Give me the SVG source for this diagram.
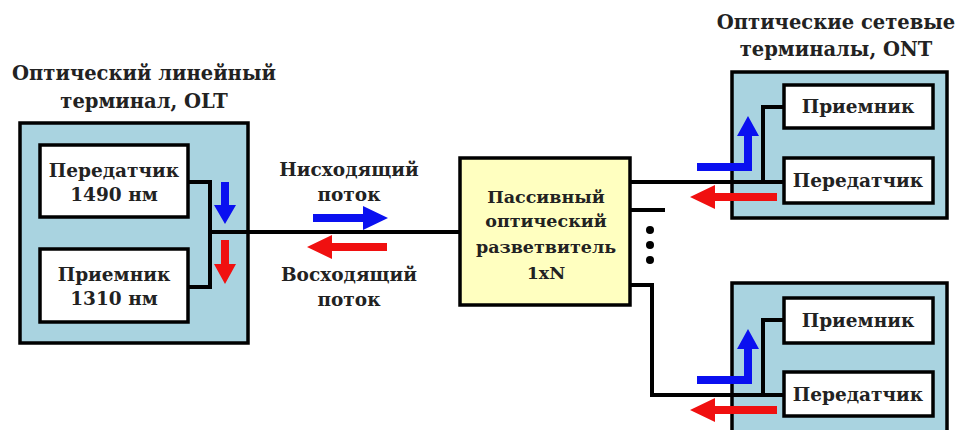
<svg xmlns="http://www.w3.org/2000/svg" width="959" height="430" viewBox="0 0 959 430">
<style>
.bg{fill:#ffffff}
.term{fill:#a9d3e0;stroke:#000;stroke-width:3.5}
.box{fill:#ffffff;stroke:#000;stroke-width:3.5}
.split{fill:#ffffc0;stroke:#000;stroke-width:3.5}
.wire{fill:none;stroke:#000;stroke-width:4}
.t{font-family:"DejaVu Serif","Liberation Serif",serif;font-weight:bold;fill:#222;text-anchor:middle}
.ttl{font-size:19.5px}
.lbl{font-size:18.5px}
.sp{font-size:17.5px}
.blue{fill:#0a10f0}
.red{fill:#f01010}
</style>
<rect class="bg" x="0" y="0" width="959" height="430"/>

<g id="olt">
<rect class="term" x="20" y="123" width="228" height="220"/>
<text class="t ttl" x="144" y="80">Оптический линейный</text>
<text class="t ttl" x="144" y="108">терминал, OLT</text>
</g>
<g id="olt-tx">
<rect class="box" x="40" y="145" width="148" height="72"/>
<text class="t lbl" x="114" y="177">Передатчик</text>
<text class="t lbl" x="114" y="201">1490 нм</text>
</g>
<g id="olt-rx">
<rect class="box" x="40" y="249" width="148" height="73"/>
<text class="t lbl" x="114" y="281">Приемник</text>
<text class="t lbl" x="114" y="305">1310 нм</text>
</g>

<g id="splitter">
<rect class="split" x="460" y="158" width="170" height="147"/>
<text class="t sp" x="546" y="203">Пассивный</text>
<text class="t sp" x="546" y="227">оптический</text>
<text class="t sp" x="546" y="253">разветвитель</text>
<text class="t sp" x="546" y="279">1xN</text>
</g>

<g id="ont-title">
<text class="t ttl" x="836" y="29">Оптические сетевые</text>
<text class="t ttl" x="836" y="56">терминалы, ONT</text>
</g>
<g id="ont1">
<rect class="term" x="732" y="72" width="215" height="146"/>
</g>
<g id="ont1-rx">
<rect class="box" x="784" y="85" width="149" height="43"/>
<text class="t lbl" x="858" y="113">Приемник</text>
</g>
<g id="ont1-tx">
<rect class="box" x="784" y="158" width="149" height="45"/>
<text class="t lbl" x="858" y="187">Передатчик</text>
</g>
<g id="ont2">
<rect class="term" x="732" y="283" width="215" height="160"/>
</g>
<g id="ont2-rx">
<rect class="box" x="784" y="298" width="149" height="45"/>
<text class="t lbl" x="858" y="327">Приемник</text>
</g>
<g id="ont2-tx">
<rect class="box" x="784" y="372" width="149" height="44"/>
<text class="t lbl" x="858" y="401">Передатчик</text>
</g>

<g id="labels">
<text class="t lbl" x="349" y="176">Нисходящий</text>
<text class="t lbl" x="349" y="201">поток</text>
<text class="t lbl" x="349" y="281">Восходящий</text>
<text class="t lbl" x="349" y="306">поток</text>
</g>

<g id="connectors">
<polyline class="wire" points="188,182 210,182 210,287 188,287"/>
<line class="wire" x1="210" y1="232" x2="460" y2="232"/>
<line class="wire" x1="630" y1="182" x2="784" y2="182"/>
<polyline class="wire" points="763,182 763,107 784,107"/>
<line class="wire" x1="630" y1="210" x2="665" y2="210"/>
<polyline class="wire" points="630,285 652,285 652,395 784,395"/>
<polyline class="wire" points="763,395 763,320 784,320"/>
<circle cx="650" cy="230" r="4" fill="#000"/>
<circle cx="650" cy="245" r="4" fill="#000"/>
<circle cx="650" cy="260" r="4" fill="#000"/>
</g>

<g id="flow-arrows">
<path class="blue" d="M221,182 H229 V205 H236 L225,224 L214,205 H221 Z"/>
<path class="red" d="M221,240 H229 V264 H236 L225,284 L214,264 H221 Z"/>
<path class="blue" d="M313,214 H363 V206 L388,218 L363,230 V222 H313 Z"/>
<path class="red" d="M387,243 H332 V235 L307,247 L332,259 V251 H387 Z"/>
<path class="blue" d="M697,163 H744 V136 H737 L748,116 L759,136 H752 V171 H697 Z"/>
<path class="red" d="M777,193 H715 V185 L690,197 L715,209 V201 H777 Z"/>
<path class="blue" d="M697,376 H744 V349 H737 L748,329 L759,349 H752 V384 H697 Z"/>
<path class="red" d="M777,406 H715 V398 L690,410 L715,422 V414 H777 Z"/>
</g>
</svg>
